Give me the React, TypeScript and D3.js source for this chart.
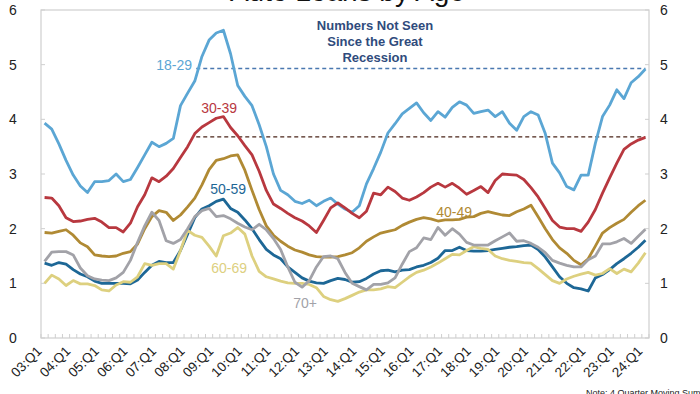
import { useEffect, useRef } from 'react'
import * as d3 from 'd3'

// quarters 03:Q1 .. 24:Q1
const quarters = d3.range(85).map(i => `${String(3 + Math.floor(i / 4)).padStart(2, '0')}:Q${(i % 4) + 1}`)
const tickLabels = ['03:Q1', '04:Q1', '05:Q1', '06:Q1', '07:Q1', '08:Q1', '09:Q1', '10:Q1', '11:Q1', '12:Q1', '13:Q1',
  '14:Q1', '15:Q1', '16:Q1', '17:Q1', '18:Q1', '19:Q1', '20:Q1', '21:Q1', '22:Q1', '23:Q1', '24:Q1']
const yTicks = [0, 1, 2, 3, 4, 5, 6]

const age1829 = [3.93, 3.82, 3.55, 3.25, 2.98, 2.78, 2.66, 2.86, 2.86, 2.88, 3.0, 2.86, 2.9, 3.12, 3.35, 3.58, 3.5, 3.56, 3.65, 4.25,
  4.48, 4.7, 5.15, 5.45, 5.58, 5.63, 5.2, 4.62, 4.42, 4.25, 3.9, 3.5, 3.0, 2.7, 2.62, 2.5, 2.46, 2.52, 2.42, 2.5,
  2.56, 2.45, 2.36, 2.3, 2.42, 2.82, 3.1, 3.4, 3.75, 3.92, 4.1, 4.2, 4.3, 4.12, 3.98, 4.14, 4.04, 4.22, 4.32, 4.26,
  4.11, 4.14, 4.17, 4.05, 4.14, 3.93, 3.8, 4.05, 4.14, 4.08, 3.74, 3.2, 3.02, 2.77, 2.71, 2.98, 2.98, 3.56, 4.05, 4.26,
  4.54, 4.38, 4.67, 4.78, 4.92]
const age3039 = [2.57, 2.56, 2.42, 2.2, 2.13, 2.14, 2.17, 2.19, 2.12, 2.02, 2.02, 1.94, 2.1, 2.4, 2.62, 2.93, 2.86, 2.96, 3.1, 3.3,
  3.5, 3.74, 3.86, 3.94, 4.02, 4.05, 3.85, 3.7, 3.52, 3.35, 3.05, 2.7, 2.45, 2.37, 2.28, 2.2, 2.14, 2.05, 1.93, 2.15,
  2.38, 2.47, 2.38, 2.28, 2.2, 2.32, 2.65, 2.62, 2.76, 2.68, 2.56, 2.52, 2.58, 2.66, 2.76, 2.83, 2.76, 2.83, 2.74, 2.63,
  2.7, 2.77, 2.66, 2.88, 3.0, 2.99, 2.98, 2.9, 2.75, 2.58, 2.37, 2.15, 2.03, 2.0, 2.0, 1.95, 2.12, 2.35, 2.65, 2.93,
  3.2, 3.45, 3.55, 3.62, 3.67]
const age4049 = [1.93, 1.92, 1.95, 1.98, 1.88, 1.74, 1.67, 1.52, 1.5, 1.49, 1.5, 1.55, 1.58, 1.72, 2.0, 2.22, 2.33, 2.3, 2.15, 2.25,
  2.4, 2.56, 2.8, 3.08, 3.25, 3.28, 3.33, 3.35, 3.07, 2.7, 2.35, 2.05, 1.88, 1.77, 1.68, 1.61, 1.57, 1.52, 1.49, 1.48,
  1.48, 1.49, 1.52, 1.56, 1.65, 1.77, 1.85, 1.92, 1.95, 1.98, 2.06, 2.12, 2.17, 2.2, 2.18, 2.14, 2.16, 2.16, 2.17, 2.21,
  2.22, 2.28, 2.31, 2.28, 2.25, 2.24, 2.31, 2.36, 2.43, 2.22, 2.0, 1.8, 1.65, 1.55, 1.42, 1.34, 1.45, 1.68, 1.92, 2.02,
  2.1, 2.17, 2.3, 2.42, 2.52]
const age5059 = [1.37, 1.33, 1.38, 1.35, 1.25, 1.17, 1.12, 1.04, 1.0, 1.0, 1.0, 1.0, 0.99, 1.06, 1.2, 1.33, 1.4, 1.38, 1.38, 1.6,
  1.9, 2.2, 2.36, 2.42, 2.5, 2.54, 2.37, 2.3, 2.16, 2.0, 1.8, 1.62, 1.52, 1.45, 1.3, 1.2, 1.1, 1.04, 1.01, 1.0,
  1.05, 1.09, 1.07, 1.02, 1.03, 1.09, 1.17, 1.23, 1.24, 1.21, 1.24, 1.25, 1.3, 1.33, 1.38, 1.46, 1.6, 1.6, 1.66, 1.6,
  1.59, 1.59, 1.6, 1.62, 1.64, 1.66, 1.67, 1.69, 1.7, 1.62, 1.48, 1.3, 1.12, 1.0, 0.92, 0.9, 0.86, 1.1, 1.16, 1.25,
  1.36, 1.45, 1.55, 1.66, 1.79]
const age6069 = [1.0, 1.15, 1.08, 0.96, 1.05, 0.99, 0.99, 0.96, 0.88, 0.86, 0.97, 1.03, 1.02, 1.12, 1.36, 1.33, 1.36, 1.36, 1.26, 1.6,
  1.97, 1.88, 1.84, 1.68, 1.5, 1.87, 1.92, 2.02, 1.9, 1.5, 1.22, 1.12, 1.08, 1.04, 1.01, 1.0, 1.0, 0.98, 0.92, 0.76,
  0.7, 0.67, 0.72, 0.78, 0.84, 0.88, 0.88, 0.9, 0.94, 0.92, 1.02, 1.12, 1.2, 1.24, 1.3, 1.37, 1.45, 1.53, 1.52, 1.6,
  1.67, 1.64, 1.62, 1.5, 1.45, 1.42, 1.4, 1.38, 1.37, 1.27, 1.16, 1.05, 1.0, 1.08, 1.13, 1.17, 1.2, 1.15, 1.18, 1.27,
  1.18, 1.26, 1.21, 1.37, 1.56]
const age70 = [1.4, 1.57, 1.58, 1.58, 1.52, 1.28, 1.14, 1.08, 1.06, 1.05, 1.1, 1.2, 1.42, 1.75, 2.05, 2.3, 2.15, 1.78, 1.73, 1.8,
  2.0, 2.22, 2.33, 2.37, 2.22, 2.24, 2.18, 2.1, 2.03, 1.98, 2.08, 1.98, 1.82, 1.62, 1.3, 1.02, 0.93, 1.05, 1.3, 1.49,
  1.5, 1.45, 1.2, 1.0, 0.94, 0.88, 0.98, 0.98, 1.01, 1.1, 1.35, 1.58, 1.65, 1.83, 1.8, 2.02, 1.88, 2.0, 1.9, 1.75,
  1.7, 1.7, 1.7, 1.78, 1.85, 1.92, 1.77, 1.78, 1.73, 1.66, 1.56, 1.42, 1.37, 1.33, 1.3, 1.3, 1.43, 1.5, 1.72, 1.72,
  1.76, 1.82, 1.73, 1.86, 1.99]

const series = [
  { name: '18-29', values: age1829, color: '#5ba6d4', lx: 192, ly: 70 },
  { name: '30-39', values: age3039, color: '#b8383f', lx: 237, ly: 113 },
  { name: '40-49', values: age4049, color: '#b08a34', lx: 472, ly: 217 },
  { name: '50-59', values: age5059, color: '#1d6796', lx: 246, ly: 194 },
  { name: '60-69', values: age6069, color: '#ddd07f', lx: 247, ly: 273 },
  { name: '70+', values: age70, color: '#a2a2a8', lx: 317, ly: 308 },
]

// reference levels
const refLevels = [
  { value: 4.93, color: '#4a78b0', from: '09:Q1' },
  { value: 3.68, color: '#4a2418', from: '09:Q1' },
]

export default function App() {
  const ref = useRef<SVGSVGElement>(null)

  useEffect(() => {
    const svg = d3.select(ref.current)
    svg.selectAll('*').remove()

    const left = 41, right = 649, top = 10, bottom = 338
    const x = d3.scalePoint<string>().domain(quarters).range([left, right]).padding(0.5)
    const y = d3.scaleLinear().domain([0, 6]).range([bottom, top])
    const font = 'Liberation Sans, Arial, sans-serif'

    // title, mostly outside the frame like the source
    svg.append('text')
      .attr('x', 465).attr('y', 1)
      .attr('text-anchor', 'end')
      .style('font-family', font).style('font-size', '28px').style('fill', '#111')
      .text('Auto Loans by Age')

    // frame
    svg.append('rect')
      .attr('x', left).attr('y', top)
      .attr('width', right - left).attr('height', bottom - top)
      .style('fill', 'none').style('stroke', '#cfcfcf').style('stroke-width', 1.2)

    // y ticks both sides
    yTicks.forEach(t => {
      svg.append('line').attr('x1', left).attr('x2', left + 4).attr('y1', y(t)).attr('y2', y(t))
        .style('stroke', '#cfcfcf')
      svg.append('line').attr('x1', right - 4).attr('x2', right).attr('y1', y(t)).attr('y2', y(t))
        .style('stroke', '#cfcfcf')
      svg.append('text').attr('x', 13).attr('y', y(t) + 5).attr('text-anchor', 'middle')
        .style('font-family', font).style('font-size', '14px').style('fill', '#222').text(t)
      svg.append('text').attr('x', 664).attr('y', y(t) + 5).attr('text-anchor', 'middle')
        .style('font-family', font).style('font-size', '14px').style('fill', '#222').text(t)
    })

    // quarterly minor ticks on the x axis
    const step = x.step()
    d3.range(quarters.length + 1).forEach(k => {
      const xx = left + k * step
      svg.append('line').attr('x1', xx).attr('x2', xx).attr('y1', bottom).attr('y2', bottom - 4)
        .style('stroke', '#cfcfcf')
    })

    // x labels
    tickLabels.forEach(lbl => {
      const xx = x(lbl)! - 2
      svg.append('text')
        .attr('transform', `translate(${xx},${bottom + 14}) rotate(-45)`)
        .attr('text-anchor', 'end')
        .style('font-family', font).style('font-size', '13.5px').style('fill', '#222')
        .text(lbl)
    })

    // dashed reference lines
    refLevels.forEach(r => {
      svg.append('line')
        .attr('x1', x(r.from)! - 20).attr('x2', x(quarters[quarters.length - 1])!)
        .attr('y1', y(r.value)).attr('y2', y(r.value))
        .style('stroke', r.color).style('stroke-width', 1.3).style('stroke-dasharray', '4,3')
    })

    const line = d3.line<number>()
      .x((_, i) => x(quarters[i])!)
      .y(d => y(d))

    series.forEach(s => {
      svg.append('path')
        .attr('d', line(s.values))
        .style('fill', 'none').style('stroke', s.color).style('stroke-width', 2.8)
        .style('stroke-linejoin', 'round')
    })

    series.forEach(s => {
      svg.append('text')
        .attr('x', s.lx).attr('y', s.ly).attr('text-anchor', 'end')
        .style('font-family', font).style('font-size', '14px').style('fill', s.color)
        .text(s.name)
    })

    // annotation
    const note = svg.append('text')
      .attr('text-anchor', 'middle')
      .style('font-family', font).style('font-size', '13px').style('font-weight', 'bold').style('fill', '#2f4b7c')
    ;['Numbers Not Seen', 'Since the Great', 'Recession'].forEach((t, i) => {
      note.append('tspan').attr('x', 375).attr('y', 30 + i * 16).text(t)
    })

    svg.append('text')
      .attr('x', 586).attr('y', 396)
      .style('font-family', font).style('font-size', '9px').style('fill', '#222')
      .text('Note: 4 Quarter Moving Sum')
  }, [])

  return (
    <svg ref={ref} width={700} height={394}
      style={{ position: 'absolute', left: 0, top: 0, background: '#fff' }} />
  )
}
